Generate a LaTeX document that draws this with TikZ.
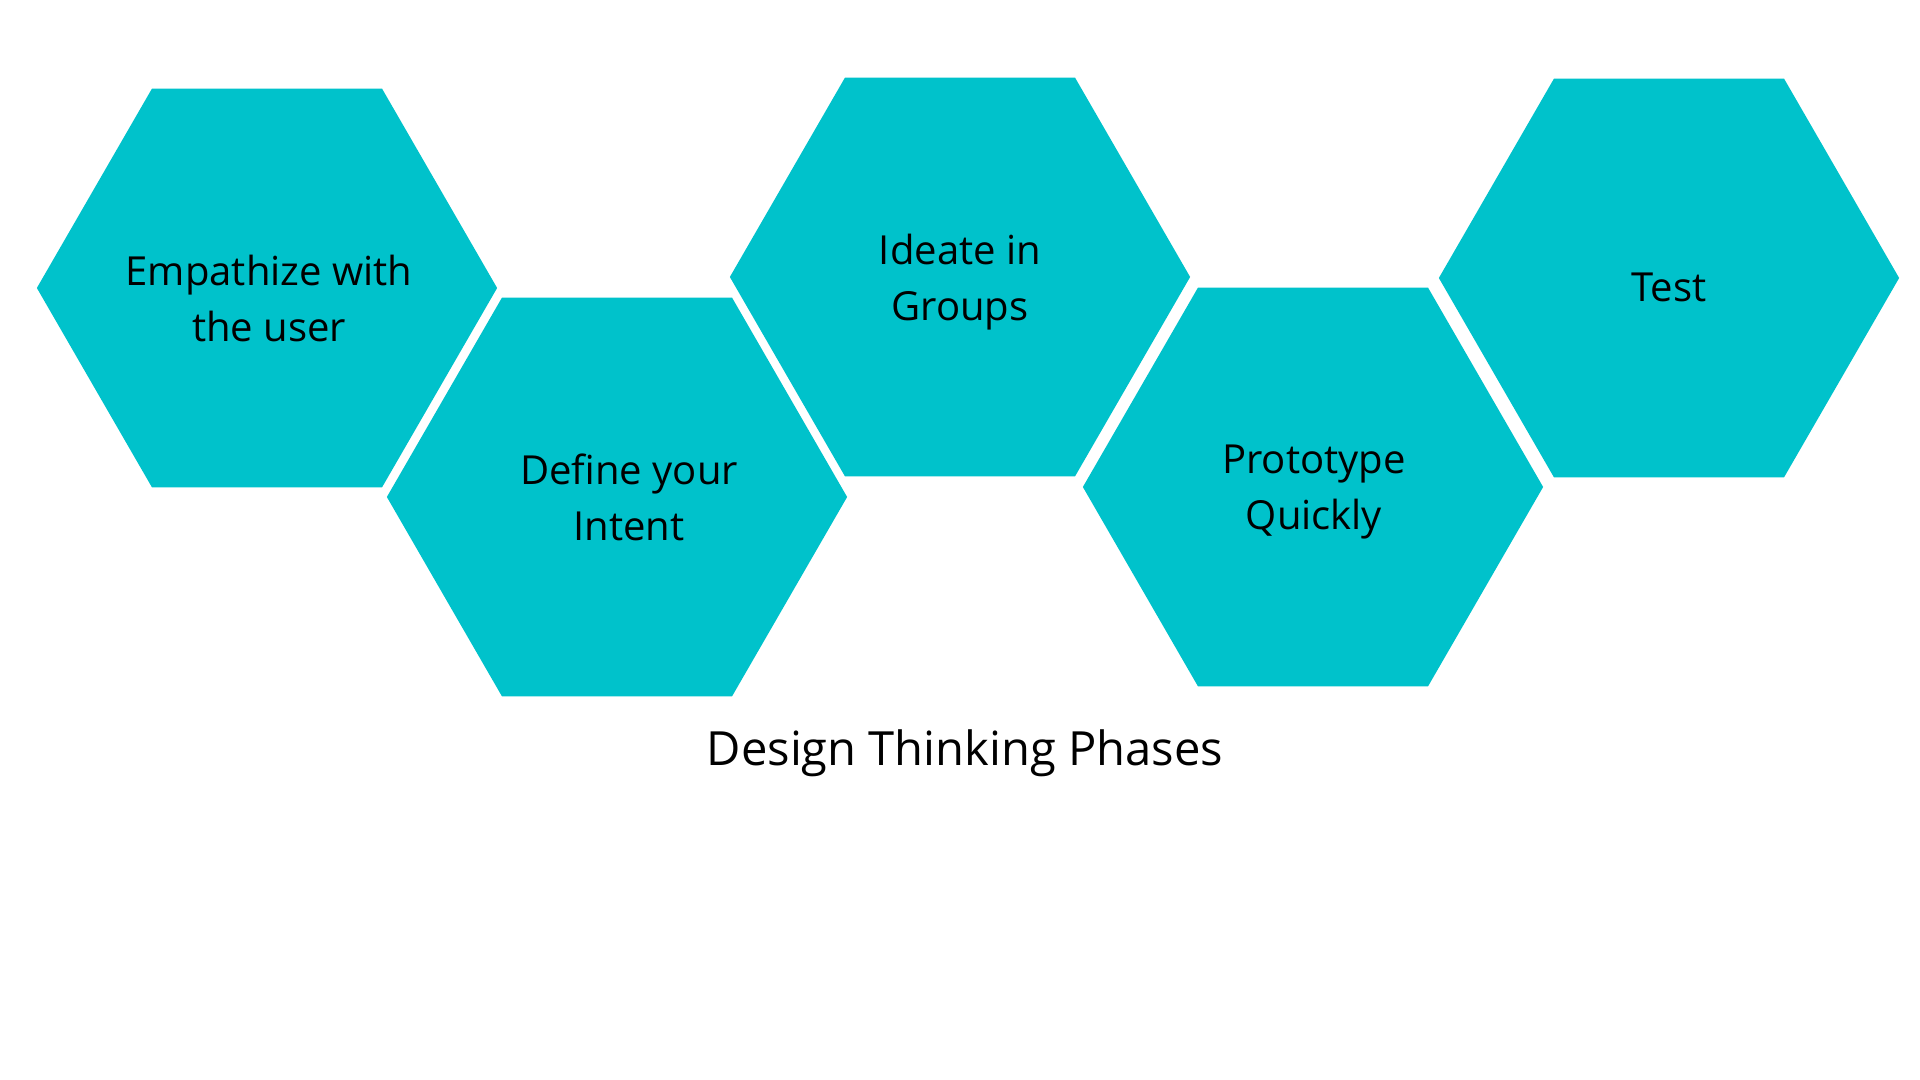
\documentclass[tikz,border=0pt]{standalone}
\usepackage{fontspec}
\setmainfont{Open Sans}
\usetikzlibrary{shapes.geometric}
\definecolor{hexteal}{RGB}{0,194,203}

\begin{document}
\begin{tikzpicture}[x=0.01cm,y=-0.01cm,
    hexa/.style={regular polygon,regular polygon sides=6,minimum size=4.6cm,inner sep=0pt,outer sep=0pt,fill=hexteal},
    phase/.style={anchor=base,align=center,inner sep=0pt,font=\fontsize{11.38pt}{15.93pt}\selectfont}]
        \useasboundingbox[fill=white] (0,0) rectangle (1920,1080);
        % hexagons of the five phases
        \node[hexa] (empathize) at (267,288) {};
        \node[hexa] (define) at (617,497) {};
        \node[hexa] (ideate) at (960,277) {};
        \node[hexa] (prototype) at (1313,487) {};
        \node[hexa] (test) at (1669,278) {};
        % phase names (base = last line)
        \node[phase] (empathizetxt) at (269,342) {Empathize with\\the user};
        \node[phase] (definetxt) at (629,541) {Define your\\Intent};
        \node[phase] (ideatetxt) at (960,321) {Ideate in\\Groups};
        \node[phase] (prototypetxt) at (1314,530) {Prototype\\Quickly};
        \node[phase] (testtxt) at (1669,302) {Test};
        % caption
        \node[anchor=base,inner sep=0pt,font=\fontsize{13.4pt}{16pt}\selectfont] (title) at (965,766) {Design Thinking Phases};
    \end{tikzpicture}
\end{document}
